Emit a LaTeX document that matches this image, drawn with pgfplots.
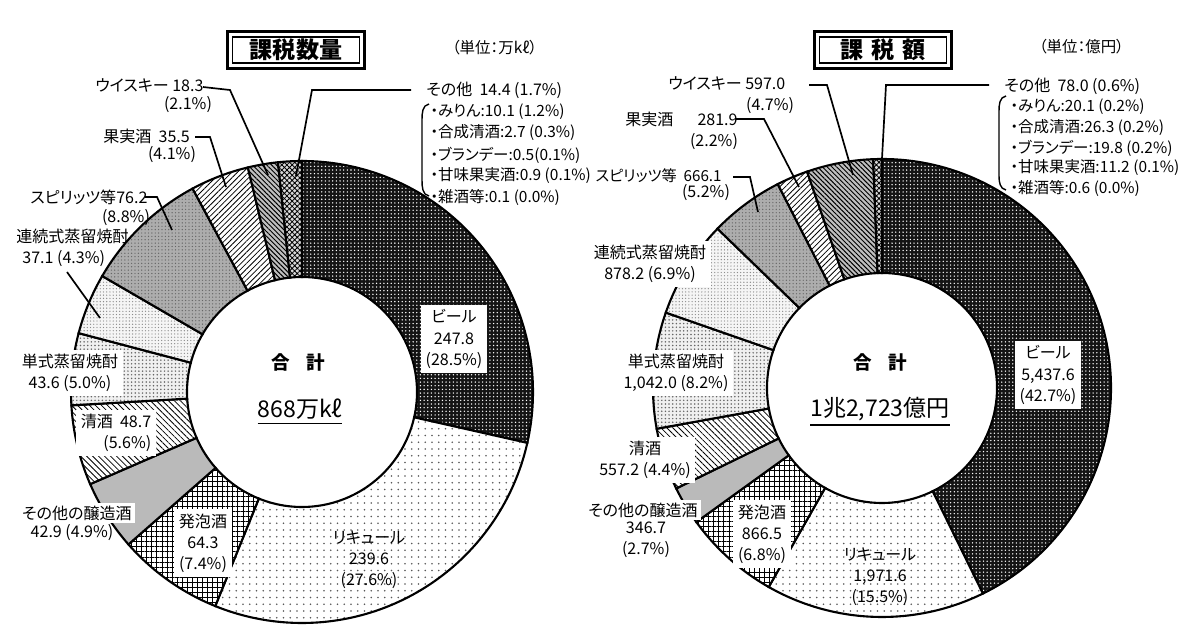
\documentclass[border=0pt]{standalone}
\usepackage{fontspec}
\setmainfont[RawFeature=+palt]{Noto Sans CJK JP}
\usepackage{pgfplots}
\usepackage{pgfplotstable}
\pgfplotsset{compat=1.18}
\usetikzlibrary{patterns.meta}

% 課税数量 (万kl), clockwise from 12 o'clock
\pgfplotstableread{
name value
beer 247.8
liqueur 239.6
happoshu 64.3
otherbrew 42.9
sake 48.7
shochuB 43.6
shochuA 37.1
spirits 76.2
fruit 35.5
whisky 18.3
other 14.4
}\volume

% 課税額 (億円)
\pgfplotstableread{
name value
beer 5437.6
liqueur 1971.6
happoshu 866.5
otherbrew 346.7
sake 557.2
shochuB 1042.0
shochuA 878.2
spirits 666.1
fruit 281.9
whisky 597.0
other 78.0
}\tax

\tikzset{
  wedge/.style={draw=black, line width=0.75pt},
  slice0/.style={wedge, preaction={fill=black!92}, pattern={Dots[distance=1.3pt, radius=0.27pt]}, pattern color=white},
  slice1/.style={wedge, preaction={fill=white}, pattern={Dots[distance=2.4pt, radius=0.33pt]}, pattern color=black!65},
  slice2/.style={wedge, preaction={fill=white}, pattern={Hatch[angle=0, distance=1.8pt, line width=0.33pt]}, pattern color=black},
  slice3/.style={wedge, fill=black!27},
  slice4/.style={wedge, preaction={fill=white}, pattern={Lines[angle=-45, distance=1.5pt, line width=0.28pt]}, pattern color=black},
  slice5/.style={wedge, preaction={fill=black!6}, pattern={Dots[distance=1.3pt, radius=0.3pt]}, pattern color=black!60},
  slice6/.style={wedge, preaction={fill=black!4}, pattern={Dots[distance=1.15pt, radius=0.24pt]}, pattern color=black!45},
  slice7/.style={wedge, preaction={fill=black!32}, pattern={Dots[distance=1.2pt, radius=0.25pt]}, pattern color=black!60},
  slice8/.style={wedge, preaction={fill=white}, pattern={Lines[angle=45, distance=1.4pt, line width=0.28pt]}, pattern color=black},
  slice9/.style={wedge, preaction={fill=black!25}, pattern={Lines[angle=-45, distance=1.2pt, line width=0.35pt]}, pattern color=black},
  slice10/.style={wedge, preaction={fill=black!15}, pattern={Hatch[angle=45, distance=1.3pt, line width=0.3pt]}, pattern color=black},
  lab/.style={font=\fontsize{5.7pt}{7.5pt}\selectfont, align=center, inner sep=1pt},
  li/.style={font=\fontsize{5.5pt}{7pt}\selectfont, anchor=west, inner sep=1pt},
  box/.style={lab, fill=white, inner sep=1.6pt},
  leader/.style={draw=black, line width=0.6pt},
  title/.style={draw=black, line width=0.45pt, fill=white, font=\fontsize{8.2pt}{9pt}\selectfont\bfseries,
    minimum width=45pt, minimum height=9.2pt, inner sep=0pt},
  total/.style={font=\fontsize{6.6pt}{7pt}\selectfont\bfseries},
  sum/.style={font=\fontsize{8.2pt}{9pt}\selectfont},
  unit/.style={font=\fontsize{5.5pt}{6pt}\selectfont, anchor=west},
}

% donut: table, cx, cy, outer r, inner r (axis units = px)
\newcommand\donut[5]{%
  \pgfplotstablegetrowsof{#1}%
  \pgfmathtruncatemacro\nlast{\pgfplotsretval-1}%
  \def\tot{0}%
  \pgfplotsforeachungrouped \i in {0,...,\nlast}{%
    \pgfplotstablegetelem{\i}{value}\of{#1}%
    \pgfmathsetmacro\tot{\tot+\pgfplotsretval}%
  }%
  \pgfmathsetmacro\Ro{#4*0.0125}%
  \pgfmathsetmacro\Ri{#5*0.0125}%
  \def\cum{0}%
  \pgfplotsforeachungrouped \i in {0,...,\nlast}{%
    \pgfplotstablegetelem{\i}{value}\of{#1}%
    \pgfmathsetmacro\aS{90-360*(\cum/\tot)}%
    \pgfmathsetmacro\cum{\cum+\pgfplotsretval}%
    \pgfmathsetmacro\aE{90-360*(\cum/\tot)}%
    \pgfmathsetmacro\xo{#2+#4*cos(\aS)}%
    \pgfmathsetmacro\yo{#3+#4*sin(\aS)}%
    \pgfmathsetmacro\xin{#2+#5*cos(\aE)}%
    \pgfmathsetmacro\yin{#3+#5*sin(\aE)}%
    \edef\temp{\noexpand\draw[slice\i] (axis cs:\xo,\yo)
      arc[start angle=\aS, end angle=\aE, radius=\Ro cm]
      -- (axis cs:\xin,\yin)
      arc[start angle=\aE, end angle=\aS, radius=\Ri cm] -- cycle;}%
    \temp
  }%
}

\begin{document}
\begin{tikzpicture}
\begin{axis}[x=0.0125cm, y=0.0125cm, xmin=0, xmax=1200, ymin=0, ymax=638,
  hide axis, clip=false]
\path (axis cs:0,0) rectangle (axis cs:1200,638);

% ---------------- left: 課税数量 ----------------
\donut{\volume}{302}{246}{231}{115}

\node[title] (t1) at (axis cs:296,588) {課税数量};
\draw[line width=1.1pt] ([xshift=-1.6pt,yshift=-1.6pt]t1.south west) rectangle ([xshift=1.6pt,yshift=1.6pt]t1.north east);
\node[unit] at (axis cs:442,590) {（単位：万kℓ）};

\node[lab, anchor=west] at (axis cs:92,553) {ウイスキー 18.3};
\node[lab] at (axis cs:188,533) {(2.1\%)};
\draw[leader] (axis cs:203,551) -- (axis cs:230,548) -- (axis cs:268,463);

\node[lab, anchor=west] at (axis cs:423,548) {その他\ \ 14.4 (1.7\%)};
\draw[leader] (axis cs:411,548) -- (axis cs:312,548) -- (axis cs:296,462);
\node[li] at (axis cs:427,526) {・みりん:10.1 (1.2\%)};
\node[li] at (axis cs:427,505) {・合成清酒:2.7 (0.3\%)};
\node[li] at (axis cs:427,483) {・ブランデー:0.5(0.1\%)};
\node[li] at (axis cs:427,462) {・甘味果実酒:0.9 (0.1\%)};
\node[li] at (axis cs:427,441) {・雑酒等:0.1 (0.0\%)};
\draw[line width=0.5pt] (axis cs:429,534) to[out=190,in=90] (axis cs:422,518) -- (axis cs:422,458) to[out=-90,in=170] (axis cs:429,442);

\node[lab, anchor=west] at (axis cs:100,502) {果実酒\ \ 35.5};
\node[lab] at (axis cs:172,483) {(4.1\%)};
\draw[leader] (axis cs:195,501) -- (axis cs:210,501) -- (axis cs:226,451);

\node[lab, anchor=west] at (axis cs:27,441) {スピリッツ等76.2};
\node[lab] at (axis cs:126,420) {(8.8\%)};
\draw[leader] (axis cs:145,441) -- (axis cs:157,441) -- (axis cs:172,408);

\node[lab, anchor=west] at (axis cs:13,402) {連続式蒸留焼酎};
\node[lab, anchor=west] at (axis cs:19,379) {37.1 (4.3\%)};
\draw[leader] (axis cs:67,366) -- (axis cs:100,320);

\node[box] at (axis cs:454,299) {ビール\\247.8\\(28.5\%)};
\node[total] at (axis cs:298,276) {合\hspace{0.9em}計};
\node[sum] at (axis cs:300,226) {\underline{868万kℓ}};

\node[box] at (axis cs:70,265) {単式蒸留焼酎\\43.6 (5.0\%)};
\node[box, align=right] at (axis cs:116,205) {清酒\ \ 48.7\\(5.6\%)};
\node[box, inner sep=1pt] at (axis cs:77,125) {その他の醸造酒};
\node[lab] at (axis cs:72,105) {42.9 (4.9\%)};
\node[box] at (axis cs:203,95) {発泡酒\\64.3\\(7.4\%)};
\node[lab] at (axis cs:369,78) {リキュール\\239.6\\(27.6\%)};

% ---------------- right: 課税額 ----------------
\donut{\tax}{882}{250}{229}{115}

\node[title] (t2) at (axis cs:883,588) {課\hspace{0.35em}税\hspace{0.35em}額};
\draw[line width=1.1pt] ([xshift=-1.6pt,yshift=-1.6pt]t2.south west) rectangle ([xshift=1.6pt,yshift=1.6pt]t2.north east);
\node[unit] at (axis cs:1029,591) {（単位：億円）};

\node[lab, anchor=west] at (axis cs:665,555) {ウイスキー 597.0};
\node[lab] at (axis cs:770,532) {(4.7\%)};
\draw[leader] (axis cs:809,553) -- (axis cs:827,553) -- (axis cs:853,463);

\node[lab, anchor=west] at (axis cs:1001,552) {その他\ \ 78.0 (0.6\%)};
\draw[leader] (axis cs:989,553) -- (axis cs:886,553) -- (axis cs:881,461);
\node[li] at (axis cs:1007,531) {・みりん:20.1 (0.2\%)};
\node[li] at (axis cs:1007,510) {・合成清酒:26.3 (0.2\%)};
\node[li] at (axis cs:1007,490) {・ブランデー:19.8 (0.2\%)};
\node[li] at (axis cs:1007,470) {・甘味果実酒:11.2 (0.1\%)};
\node[li] at (axis cs:1007,450) {・雑酒等:0.6 (0.0\%)};
\draw[line width=0.5pt] (axis cs:1006,542) to[out=190,in=90] (axis cs:999,527) -- (axis cs:999,462) to[out=-90,in=170] (axis cs:1006,448);

\node[lab, anchor=west] at (axis cs:622,519) {果実酒\hspace{1.5em}281.9};
\node[lab] at (axis cs:714,496) {(2.2\%)};
\draw[leader] (axis cs:736,519) -- (axis cs:764,519) -- (axis cs:799,451);

\node[lab, anchor=east, font=\fontsize{5.4pt}{7pt}\selectfont] at (axis cs:725,462) {スピリッツ等\hspace{0.45em}666.1};
\node[lab] at (axis cs:706,445) {(5.2\%)};
\draw[leader] (axis cs:733,461) -- (axis cs:750,461) -- (axis cs:758,426);

\node[box] at (axis cs:650,374) {連続式蒸留焼酎\\878.2 (6.9\%)};
\node[box] at (axis cs:676,265) {単式蒸留焼酎\\1,042.0 (8.2\%)};
\node[box] at (axis cs:645,178) {清酒\\557.2 (4.4\%)};
\node[box, inner sep=1pt] at (axis cs:643,128) {その他の醸造酒};
\node[lab] at (axis cs:646,98) {346.7\\(2.7\%)};
\node[box] at (axis cs:762,104) {発泡酒\\866.5\\(6.8\%)};
\node[lab] at (axis cs:880,61) {リキュール\\1,971.6\\(15.5\%)};
\node[box] at (axis cs:1048,263) {ビール\\5,437.6\\(42.7\%)};
\node[total] at (axis cs:880,276) {合\hspace{0.9em}計};
\node[sum] at (axis cs:880,226) {\underline{1兆2,723億円}};
\end{axis}
\end{tikzpicture}
\end{document}
